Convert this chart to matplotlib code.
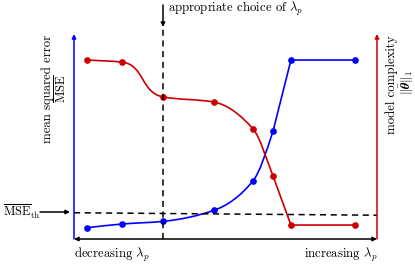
import matplotlib
matplotlib.use("Agg")
import matplotlib.pyplot as plt
from matplotlib.path import Path
from matplotlib.patches import PathPatch
import numpy as np

plt.rcParams["font.family"] = "serif"
plt.rcParams["font.serif"] = ["cmr10"]
plt.rcParams["mathtext.fontset"] = "cm"
plt.rcParams["axes.unicode_minus"] = False

# lambda positions (arbitrary units, left = small, right = large)
lam = [0.43, 1.58, 2.94, 4.62, 5.91, 6.57, 7.16, 9.27]
# mean squared error (blue) and model complexity (red), arbitrary units
mse = [0.55, 0.73, 0.86, 1.40, 2.84, 5.27, 8.73, 8.73]
complexity = [8.73, 8.63, 6.93, 6.68, 5.37, 3.07, 0.68, 0.68]
# which segments are drawn smooth (True) or straight (False)
mse_smooth = [True, True, True, True, True, False, False]
cplx_smooth = [True, True, True, True, True, False, False]
# threshold line and chosen lambda
mse_th = [1.28, 1.16]
lam_choice = 2.94

BLUE = "#0000ff"
RED = "#cc0000"
W, H = 415, 264


def fx(px):
    return px / W


def fy(py):
    return 1 - py / H


def pchip_slopes(x, y):
    x = np.asarray(x, float)
    y = np.asarray(y, float)
    h = np.diff(x)
    d = np.diff(y) / h
    m = np.zeros_like(y)
    m[0], m[-1] = d[0], d[-1]
    for k in range(1, len(x) - 1):
        if d[k - 1] * d[k] <= 0:
            m[k] = 0
        else:
            w1 = 2 * h[k] + h[k - 1]
            w2 = h[k] + 2 * h[k - 1]
            m[k] = (w1 + w2) / (w1 / d[k - 1] + w2 / d[k])
    return m


def curve_path(x, y, smooth, tension=None):
    m = pchip_slopes(x, y)
    if tension is None:
        tension = [1 / 3] * (len(x) - 1)
    verts = [(x[0], y[0])]
    codes = [Path.MOVETO]
    for i in range(len(x) - 1):
        h = (x[i + 1] - x[i]) * tension[i]
        if smooth[i]:
            verts += [(x[i] + h, y[i] + m[i] * h),
                      (x[i + 1] - h, y[i + 1] - m[i + 1] * h),
                      (x[i + 1], y[i + 1])]
            codes += [Path.CURVE4] * 3
        else:
            verts.append((x[i + 1], y[i + 1]))
            codes.append(Path.LINETO)
    return Path(verts, codes)


fig = plt.figure(figsize=(W / 100, H / 100), dpi=100)
ax = fig.add_axes([fx(74), fy(239), (377 - 74) / W, (239 - 34) / H])
ax.set_xlim(0, 10)
ax.set_ylim(0, 10)
ax.axis("off")

curves = [(mse, BLUE, mse_smooth, None),
          (complexity, RED, cplx_smooth, [1 / 3, 0.55, 1 / 3, 1 / 3, 1 / 3, 1 / 3, 1 / 3])]
for yv, col, sm, ten in curves:
    ax.add_patch(PathPatch(curve_path(lam, yv, sm, ten), fill=False,
                           edgecolor=col, lw=1.2, clip_on=False))
    ax.plot(lam, yv, "o", color=col, ms=3.8, clip_on=False)

# threshold and chosen lambda
ax.plot([0, 10], mse_th, color="black", lw=1.1, ls=(0, (4, 3)), clip_on=False)
ax.plot([lam_choice, lam_choice], [0, 10.3], color="black", lw=1.1,
        ls=(0, (4, 3)), clip_on=False)

arrow = dict(arrowstyle="-|>", lw=1.1, mutation_scale=6, shrinkA=0, shrinkB=0)
# axes
ax.annotate("", xy=(0, 10), xytext=(0, 0), clip_on=False,
            arrowprops=dict(arrow, color=BLUE))
ax.annotate("", xy=(10, 10), xytext=(10, 0), clip_on=False,
            arrowprops=dict(arrow, color=RED))
ax.annotate("", xy=(10, 0), xytext=(0, 0),
            arrowprops=dict(arrowstyle="<|-|>", lw=1.1, mutation_scale=6,
                            shrinkA=0, shrinkB=0, color="black"))

# arrow for chosen lambda
ax.annotate("", xy=(fx(163), fy(27)), xytext=(fx(163), fy(5)),
            xycoords="figure fraction", textcoords="figure fraction",
            arrowprops=dict(arrow, color="black"))
fig.text(fx(168), fy(9), r"appropriate choice of $\lambda_p$", fontsize=9.2,
         ha="left", va="center")

# threshold label
ax.annotate("", xy=(fx(70), fy(212)), xytext=(fx(40), fy(212)),
            xycoords="figure fraction", textcoords="figure fraction",
            arrowprops=dict(arrow, color="black"))
fig.text(fx(3), fy(212), r"$\overline{\mathrm{MSE}}_{\mathrm{th}}$", fontsize=9,
         ha="left", va="center")

# axis labels
fig.text(fx(48), fy(89), "mean squared error", fontsize=9.2, rotation=90,
         ha="center", va="center")
fig.text(fx(62), fy(89), r"$\overline{\mathrm{MSE}}$", fontsize=9, rotation=90,
         ha="center", va="center")
fig.text(fx(392), fy(85), "model complexity", fontsize=9.2, rotation=90,
         ha="center", va="center")
fig.text(fx(406), fy(83), r"$\|\bar{\boldsymbol{\theta}}\|_1$", fontsize=9,
         rotation=90, ha="center", va="center")

fig.text(fx(74), fy(255), r"decreasing $\lambda_p$", fontsize=9.2,
         ha="left", va="center")
fig.text(fx(377), fy(255), r"increasing $\lambda_p$", fontsize=9.2,
         ha="right", va="center")

fig.savefig("out.png", dpi=100)
